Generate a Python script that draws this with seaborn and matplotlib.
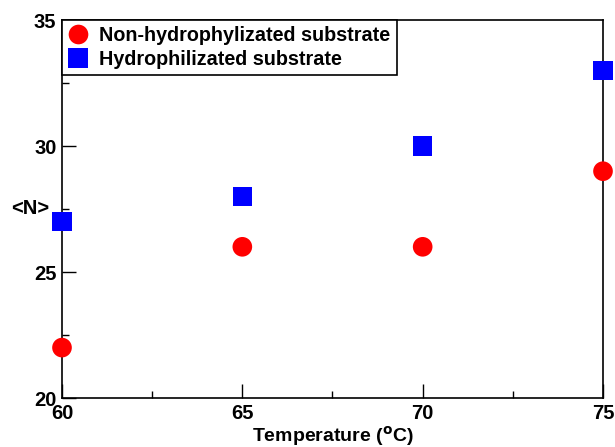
import numpy as np
import pandas as pd
import matplotlib
matplotlib.use("Agg")
import matplotlib.pyplot as plt
import seaborn as sns
from matplotlib.ticker import MultipleLocator

temperature = [60, 65, 70, 75]
n_non_hydro = [22, 26, 26, 29]
n_hydro = [27, 28, 30, 33]
labels = ["Non-hydrophylizated substrate", "Hydrophilizated substrate"]

df = pd.DataFrame({
    "T": temperature * 2,
    "N": n_non_hydro + n_hydro,
    "kind": [labels[0]] * 4 + [labels[1]] * 4,
})

sns.set_style("ticks")
plt.rcParams["font.family"] = ["Liberation Sans", "DejaVu Sans"]
plt.rcParams["font.weight"] = "bold"
plt.rcParams["text.color"] = "black"
plt.rcParams["xtick.color"] = "black"
plt.rcParams["ytick.color"] = "black"
plt.rcParams["xtick.direction"] = "in"
plt.rcParams["ytick.direction"] = "in"

fig = plt.figure(figsize=(6.15, 4.47), dpi=100)
ax = fig.add_axes([62 / 615, 1 - 398 / 447, 541 / 615, 378 / 447])

sns.scatterplot(data=df, x="T", y="N", hue="kind", style="kind",
                palette={labels[0]: "#ff0000", labels[1]: "#0000ff"},
                markers={labels[0]: "o", labels[1]: "s"},
                s=200, linewidth=0, ax=ax, clip_on=False, zorder=3)

ax.set_xlim(60, 75)
ax.set_ylim(20, 35)
ax.xaxis.set_major_locator(MultipleLocator(5))
ax.xaxis.set_minor_locator(MultipleLocator(2.5))
ax.yaxis.set_major_locator(MultipleLocator(5))
ax.yaxis.set_minor_locator(MultipleLocator(2.5))
ax.tick_params(which="major", direction="in", length=10, width=1, labelsize=14.5,
               pad=4, colors="black")
ax.tick_params(which="minor", direction="in", length=5, width=1, colors="black")
for lab in ax.get_xticklabels() + ax.get_yticklabels():
    lab.set_fontweight("bold")
for s in ax.spines.values():
    s.set_visible(True)
    s.set_color("black")
    s.set_linewidth(1.2)

ax.set_xlabel("Temperature ($\\mathbf{^o}$C)", fontsize=14, fontweight="bold",
              color="black", labelpad=1)
ax.set_ylabel("<N>", fontsize=14.5, fontweight="bold", rotation=0, color="black",
              va="center", ha="center")
ax.yaxis.set_label_coords(-0.059, 0.5)

leg = ax.legend(loc="upper left", frameon=True, fancybox=False, borderaxespad=0,
                prop={"size": 14.2, "weight": "bold"}, handlelength=1.0,
                handletextpad=0.6, borderpad=0.3, labelspacing=0.25,
                markerscale=1.0, framealpha=1)
leg.get_frame().set_edgecolor("black")
leg.get_frame().set_linewidth(1.2)
for t in leg.get_texts():
    t.set_color("black")

fig.savefig("out.png", dpi=100)
